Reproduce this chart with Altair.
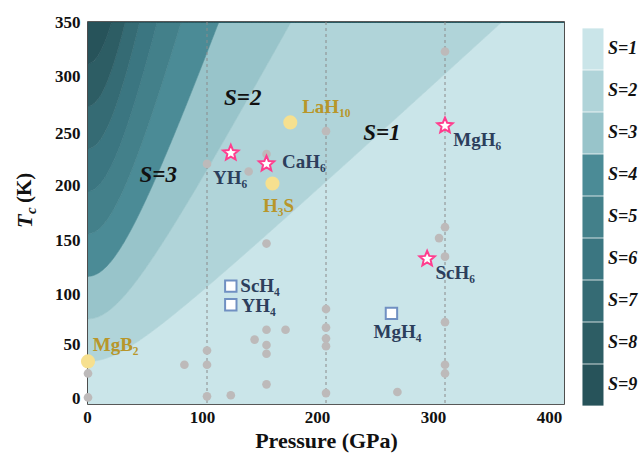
import altair as alt
import numpy as np
import pandas as pd

# ---------------- data ----------------
TC_MGB2 = 39.0          # reference Tc of MgB2 used in S = Tc / sqrt(Tc_MgB2^2 + P^2)
P_MAX = 400
TC_MAX = 350

band_labels = ["S=1", "S=2", "S=3", "S=4", "S=5", "S=6", "S=7", "S=8", "S=9"]
band_colors = ["#cae5e9", "#b0d4d9", "#98c4ca", "#4b8b96", "#43808a",
               "#3b7681", "#356b74", "#2d5d64", "#27535a"]

x_ticks = [0, 100, 200, 300, 400]
y_ticks = [0, 50, 100, 150, 200, 250, 300, 350]

gray_p = [0, 0, 81, 100, 100, 100, 120, 100, 135, 150, 150, 140, 150, 166, 150, 150, 150,
          200, 200, 200, 200, 200, 200, 260, 300, 300, 295, 300, 300, 300, 300]
gray_tc = [28, 6, 36, 49, 36, 7, 8, 220, 213, 229, 147, 59, 68, 68, 54, 46, 18,
           250, 87, 70, 60, 53, 10, 11, 323, 162, 152, 135, 75, 36, 28]

yellow_names = ["MgB2", "LaH10", "H3S"]
yellow_p = [0, 170, 155]
yellow_tc = [39, 258, 202]

star_names = ["YH6", "CaH6", "MgH6", "ScH6"]
star_p = [120, 150, 300, 285]
star_tc = [230, 220, 255, 133]

square_names = ["ScH4", "YH4", "MgH4"]
square_p = [120, 120, 255]
square_tc = [108, 91, 83]

grid_p = [100, 200, 300]

gold_text = ["LaH₁₀", "H₃S", "MgB₂"]
gold_p = [180, 147, 4]
gold_tc = [272, 181, 54]

navy_text = ["CaH₆", "YH₆", "ScH₄", "YH₄", "MgH₄", "ScH₆", "MgH₆"]
navy_p = [163, 105, 128, 129, 240, 292, 307]
navy_tc = [222, 207, 108, 90, 66, 120, 242]

s_text = ["S=1", "S=2", "S=3"]
s_p = [247, 130, 59]
s_tc = [248, 280, 210]

# ---------------- tables ----------------
P = np.arange(0, P_MAX + 1, 1.0)
f = np.sqrt(TC_MGB2 ** 2 + P ** 2)
rows = []
for k, lab in enumerate(band_labels, start=1):
    lo = np.minimum((k - 1) * f, TC_MAX)
    hi = np.minimum(k * f, TC_MAX) if k < len(band_labels) else np.full_like(P, TC_MAX)
    for p, a, b in zip(P, lo, hi):
        rows.append({"P": float(p), "Tc": float(a), "hi": float(b), "band": lab})
bands = pd.DataFrame(rows)

gray_df = pd.DataFrame({"P": gray_p, "Tc": gray_tc})
yellow_df = pd.DataFrame({"P": yellow_p, "Tc": yellow_tc, "name": yellow_names})
star_df = pd.DataFrame({"P": star_p, "Tc": star_tc, "name": star_names})
square_df = pd.DataFrame({"P": square_p, "Tc": square_tc, "name": square_names})
grid_df = pd.DataFrame({"P": grid_p})
gold_df = pd.DataFrame({"P": gold_p, "Tc": gold_tc, "text": gold_text})
navy_df = pd.DataFrame({"P": navy_p, "Tc": navy_tc, "text": navy_text})
s_df = pd.DataFrame({"P": s_p, "Tc": s_tc, "text": s_text})

FONT = "Liberation Serif"
STAR = ("M0,-1L0.2645,-0.364L0.951,-0.309L0.428,0.139L0.588,0.809L0,0.45"
        "L-0.588,0.809L-0.428,0.139L-0.951,-0.309L-0.2645,-0.364Z")

xscale = alt.Scale(domain=[0, P_MAX], nice=False, zero=False)
yscale = alt.Scale(domain=[0, TC_MAX], nice=False, zero=False)

x_label_offset = {"condition": [{"test": "datum.value == 100", "value": -5},
                                {"test": "datum.value == 200", "value": -9},
                                {"test": "datum.value == 300", "value": -12},
                                {"test": "datum.value == 400", "value": -15}],
                  "value": -1}
y_label_offset = {"condition": [{"test": "datum.value == 0", "value": -6},
                                {"test": "datum.value == 50", "value": -5},
                                {"test": "datum.value == 250", "value": 2}],
                  "value": 0}

xaxis = alt.Axis(values=x_ticks, title="Pressure (GPa)", grid=False,
                 ticks=False, domain=False, labelFlush=False, labelFont=FONT,
                 labelFontWeight="bold", labelFontSize=17, labelColor="#111",
                 labelPadding=5, labelOffset=x_label_offset,
                 titleFont=FONT, titleFontWeight="bold",
                 titleFontSize=22, titleColor="#111", titlePadding=5)
yaxis = alt.Axis(values=y_ticks, title=None, grid=False, ticks=False,
                 domain=False, labelFlush=False, labelFont=FONT, labelFontWeight="bold",
                 labelFontSize=17, labelColor="#111", labelPadding=8,
                 labelOffset=y_label_offset)

legend = alt.Legend(
    title=None, orient="none", legendX=478, legendY=6,
    symbolType="M-0.22,-1H0.8V1H-0.22Z", symbolSize=1700, symbolStrokeWidth=0,
    symbolOpacity=1, rowPadding=0, padding=0, labelOffset=0,
    labelFont=FONT, labelFontStyle="italic", labelFontWeight="bold",
    labelFontSize=18, labelColor="#111")


def X():
    return alt.X("P:Q", scale=xscale, axis=xaxis)


def Y():
    return alt.Y("Tc:Q", scale=yscale, axis=yaxis)


areas = alt.Chart(bands).mark_area(clip=True, opacity=1, strokeWidth=0.6).encode(
    x=X(), y=Y(), y2="hi:Q",
    color=alt.Color("band:N", scale=alt.Scale(domain=band_labels, range=band_colors),
                    sort=band_labels, legend=legend),
    stroke=alt.Stroke("band:N", scale=alt.Scale(domain=band_labels, range=band_colors),
                      legend=None),
)

grid = alt.Chart(grid_df).mark_rule(color="#8a8a8a", strokeDash=[3, 3], strokeWidth=1).encode(
    x=X()
)

gray = alt.Chart(gray_df).mark_circle(size=75, color="#bdbaba", opacity=1).encode(x=X(), y=Y())

yellow = alt.Chart(yellow_df).mark_circle(size=200, color="#f6e08f", opacity=1).encode(x=X(), y=Y())

stars = alt.Chart(star_df).mark_point(shape=STAR, size=260, fill="white", fillOpacity=1,
                                      stroke="#ff3d8e", strokeWidth=2,
                                      opacity=1).encode(x=X(), y=Y())

squares = alt.Chart(square_df).mark_point(shape="square", size=130, fill="white",
                                          fillOpacity=1, stroke="#7090c2", strokeWidth=2,
                                          opacity=1).encode(x=X(), y=Y())

gold_labels = alt.Chart(gold_df).mark_text(align="left", baseline="middle", font=FONT,
                                           fontWeight="bold", fontSize=19,
                                           color="#b8962a").encode(x=X(), y=Y(), text="text:N")

navy_labels = alt.Chart(navy_df).mark_text(align="left", baseline="middle", font=FONT,
                                           fontWeight="bold", fontSize=19,
                                           color="#2c3e5c").encode(x=X(), y=Y(), text="text:N")

s_labels = alt.Chart(s_df).mark_text(align="center", baseline="middle", font=FONT,
                                     fontWeight="bold", fontStyle="italic", fontSize=23,
                                     color="#111").encode(x=X(), y=Y(), text="text:N")

# y-axis title: italic T with subscript c, then (K)
yt_T = alt.Chart(pd.DataFrame({"t": ["T"]})).mark_text(
    angle=270, align="left", baseline="middle", font=FONT, fontWeight="bold",
    fontStyle="italic", fontSize=22, color="#111").encode(
    x=alt.value(-63), y=alt.value(206), text="t:N")
yt_c = alt.Chart(pd.DataFrame({"t": ["c"]})).mark_text(
    angle=270, align="left", baseline="middle", font=FONT, fontWeight="bold",
    fontStyle="italic", fontSize=15, color="#111").encode(
    x=alt.value(-57), y=alt.value(192), text="t:N")
yt_K = alt.Chart(pd.DataFrame({"t": ["(K)"]})).mark_text(
    angle=270, align="left", baseline="middle", font=FONT, fontWeight="bold",
    fontSize=21, color="#111").encode(
    x=alt.value(-63), y=alt.value(181), text="t:N")

chart = alt.layer(
    areas, grid, gray, yellow, stars, squares, gold_labels, navy_labels, s_labels,
    yt_T, yt_c, yt_K
).properties(
    width=476, height=382,
    autosize=alt.AutoSizeParams(type="none"),
    padding={"left": 88, "top": 22, "right": 80, "bottom": 58},
    background="white",
).configure_view(
    stroke="#222", strokeWidth=1.6
)

chart.save("out.html", embed_options={"renderer": "svg", "actions": False})
